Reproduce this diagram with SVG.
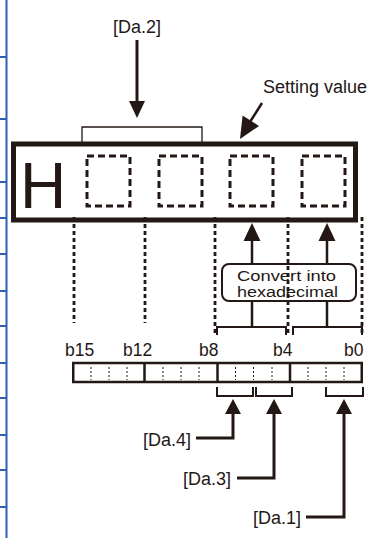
<svg xmlns="http://www.w3.org/2000/svg" width="374" height="541" viewBox="0 0 374 541">
<defs>
<style>
.t{font-family:"Liberation Sans",Arial,sans-serif;font-size:18px;fill:#231815}
.ln{stroke:#231815;fill:none}
.ah{fill:#231815;stroke:none}
.dot{stroke:#231815;stroke-width:2.8;stroke-dasharray:4 3;fill:none}
.dash{stroke:#231815;stroke-width:3;stroke-dasharray:7 4;fill:none}
.tick{stroke:#231815;stroke-width:1;stroke-dasharray:2 2;fill:none}
.blue{stroke:#2f5fb3;stroke-width:2;fill:none}
</style>
</defs>
<rect width="374" height="541" fill="#ffffff"/>
<g id="margin-rule">
<path class="blue" d="M6.5,0V538M0,57H6.5M0,119H6.5M0,182H6.5M0,218H6.5M0,254H6.5M0,291H6.5M0,326H6.5M0,363H6.5M0,398H6.5M0,435H6.5M0,470H6.5M0,507H6.5"/>
</g>
<g id="guides">
<path class="dot" d="M74,217V323M145,217V323M215,217V335M288,217V335M362,217V335"/>
</g>
<g id="setting-value-box">
<path class="ln" stroke-width="1.3" d="M82,142V127H202V142"/>
<rect class="ln" x="13.5" y="144" width="342" height="76" stroke-width="5" fill="#ffffff"/>
<text class="t" x="20" y="208" style="font-size:64px">H</text>
<rect class="dash" x="87" y="156" width="43" height="50"/>
<rect class="dash" x="159" y="156" width="43" height="50"/>
<rect class="dash" x="230" y="156" width="43" height="50"/>
<rect class="dash" x="302" y="156" width="43" height="50"/>
</g>
<g id="convert-box">
<rect class="ln" x="222" y="264" width="134" height="37" rx="7" stroke-width="2" fill="#ffffff"/>
<text class="t" x="237" y="280.5" style="font-size:15.5px" textLength="99" lengthAdjust="spacingAndGlyphs">Convert into</text>
<text class="t" x="237" y="296.5" style="font-size:15.5px" textLength="101" lengthAdjust="spacingAndGlyphs">hexadecimal</text>
</g>
<g id="nibble-brackets">
<path class="ln" stroke-width="2" d="M217,335V327H286V335M293,335V327H362V335"/>
</g>
<g id="bit-register">
<text class="t" x="65" y="356" style="font-size:17.5px">b15</text>
<text class="t" x="123" y="356" style="font-size:17.5px">b12</text>
<text class="t" x="199" y="356" style="font-size:17.5px">b8</text>
<text class="t" x="273" y="356" style="font-size:17.5px">b4</text>
<text class="t" x="344" y="356" style="font-size:17.5px">b0</text>
<path class="tick" d="M91,367V380M109,367V380M127,367V380M163,367V380M181,367V380M199,367V380M235.5,367V380M253.5,367V380M272,367V380M308,367V380M326,367V380M344,367V380"/>
<rect class="ln" x="73.25" y="363" width="288.5" height="19" stroke-width="2.5"/>
<path class="ln" stroke-width="2.5" d="M144.5,363V382M217.5,363V382M290,363V382"/>
<path class="ln" stroke-width="2" d="M217,387V396H253V387M256,387V396H292V387M326,387V396H363V387"/>
</g>
<g id="label-da2"><text class="t" x="137" y="33" text-anchor="middle">[Da.2]</text></g>
<g id="label-setting"><text class="t" x="263" y="93">Setting value</text></g>
<g id="label-da4"><text class="t" x="143" y="446">[Da.4]</text></g>
<g id="label-da3"><text class="t" x="183" y="485">[Da.3]</text></g>
<g id="label-da1"><text class="t" x="253" y="524">[Da.1]</text></g>
<g id="connectors">
<path class="ln" stroke-width="3" d="M137,40V103"/>
<polygon class="ah" points="129,101 145,101 137,118"/>
<path class="ln" stroke-width="2.5" d="M262,103L250.6,121"/>
<polygon class="ah" points="240,139 242.6,115.6 259,126"/>
<path class="ln" stroke-width="2.5" d="M252,264V240M327,264V240M252,301V327M327,301V327"/>
<polygon class="ah" points="252,223 243.5,241 260.5,241"/>
<polygon class="ah" points="327,223 318.5,241 335.5,241"/>
<path class="ln" stroke-width="3" d="M233,412V438H196M274,412V478H237M344,412V517H306"/>
<polygon class="ah" points="233,399 225,414 241,414"/>
<polygon class="ah" points="274,399 266,414 282,414"/>
<polygon class="ah" points="344,399 336,414 352,414"/>
</g>
</svg>
